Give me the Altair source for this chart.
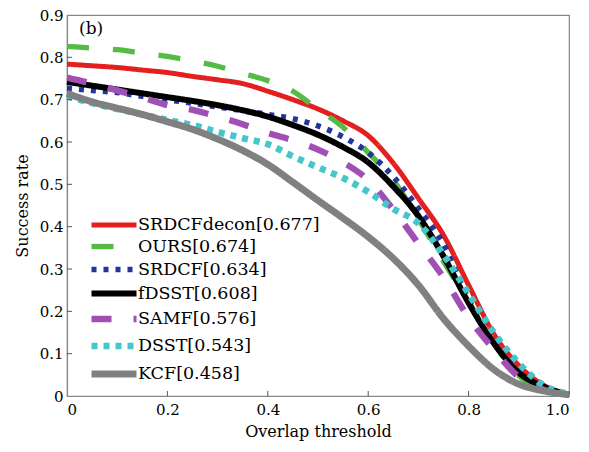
import altair as alt
import pandas as pd

thresholds = [0, 0.05, 0.1, 0.15, 0.2, 0.25, 0.3, 0.35, 0.4, 0.45, 0.5,
              0.55, 0.6, 0.65, 0.7, 0.75, 0.8, 0.85, 0.9, 0.95, 1.0]

names = ["SRDCFdecon[0.677]", "OURS[0.674]", "SRDCF[0.634]", "fDSST[0.608]",
         "SAMF[0.576]", "DSST[0.543]", "KCF[0.458]"]

srdcfdecon = [0.784, 0.780, 0.776, 0.770, 0.764, 0.755, 0.747, 0.738, 0.720, 0.700, 0.678,
              0.650, 0.615, 0.550, 0.467, 0.380, 0.262, 0.147, 0.072, 0.025, 0.003]
ours = [0.826, 0.822, 0.818, 0.810, 0.802, 0.792, 0.779, 0.762, 0.745, 0.720, 0.677,
        0.635, 0.575, 0.510, 0.418, 0.318, 0.222, 0.125, 0.048, 0.015, 0.002]
srdcf = [0.727, 0.722, 0.717, 0.708, 0.700, 0.692, 0.683, 0.674, 0.665, 0.655, 0.638,
         0.612, 0.575, 0.518, 0.443, 0.358, 0.228, 0.130, 0.060, 0.022, 0.003]
fdsst = [0.742, 0.733, 0.724, 0.715, 0.706, 0.697, 0.687, 0.675, 0.660, 0.640, 0.617,
         0.588, 0.552, 0.495, 0.425, 0.330, 0.220, 0.125, 0.055, 0.022, 0.003]
samf = [0.752, 0.738, 0.722, 0.705, 0.687, 0.676, 0.660, 0.642, 0.621, 0.604, 0.582,
        0.552, 0.510, 0.440, 0.360, 0.280, 0.185, 0.110, 0.045, 0.015, 0.002]
dsst = [0.708, 0.692, 0.678, 0.665, 0.652, 0.640, 0.624, 0.609, 0.595, 0.566, 0.540,
        0.515, 0.482, 0.442, 0.408, 0.333, 0.242, 0.150, 0.077, 0.025, 0.005]
kcf = [0.715, 0.695, 0.680, 0.665, 0.648, 0.630, 0.607, 0.580, 0.547, 0.505, 0.462,
       0.420, 0.376, 0.325, 0.262, 0.183, 0.118, 0.063, 0.028, 0.012, 0.003]

series = [srdcfdecon, ours, srdcf, fdsst, samf, dsst, kcf]
colors = ["#e3201f", "#55bb45", "#24359a", "#000000", "#a24fb5", "#45c6cb", "#808080"]
dashes = [[1, 0], [22, 24], [5, 7], [1, 0], [20, 22], [6, 6], [1, 0]]
widths = [5, 7, 5, 5, 6, 6, 5]

x_ticks = [0.2, 0.4, 0.6, 0.8]
y_ticks = [0.1, 0.2, 0.3, 0.4, 0.5, 0.6, 0.7, 0.8]

rows = []
for n, vals in zip(names, series):
    for t, v in zip(thresholds, vals):
        rows.append({"t": t, "v": v, "name": n})
df = pd.DataFrame(rows)

W, H = 502, 381
FONT = "DejaVu Serif"

xscale = alt.Scale(domain=[0, 1], nice=False)
yscale = alt.Scale(domain=[0, 0.9], nice=False)

lines = alt.Chart(df).mark_line(interpolate="monotone", strokeCap="butt").encode(
    x=alt.X("t:Q", scale=xscale, title="Overlap threshold",
            axis=alt.Axis(values=[0, 0.2, 0.4, 0.6, 0.8, 1.0], ticks=False, grid=False,
                          labelExpr="datum.value == 0 ? '0' : format(datum.value, '.1f')",
                          labelPadding=6, titlePadding=6)),
    y=alt.Y("v:Q", scale=yscale, title="Success rate",
            axis=alt.Axis(values=[0, 0.1, 0.2, 0.3, 0.4, 0.5, 0.6, 0.7, 0.8, 0.9], ticks=False,
                          grid=False,
                          labelExpr="datum.value == 0 ? '0' : format(datum.value, '.1f')",
                          labelPadding=4, titlePadding=9)),
    color=alt.Color("name:N", scale=alt.Scale(domain=names, range=colors), title=None,
                    legend=alt.Legend(orient="none", legendX=21, legendY=200,
                                      symbolType="M-1,0H5", symbolSize=225,
                                      labelFont=FONT, labelFontSize=17.5, labelColor="black",
                                      labelLimit=0, labelOffset=28, rowPadding=0, padding=0)),
    strokeDash=alt.StrokeDash("name:N", scale=alt.Scale(domain=names, range=dashes), title=None),
    strokeWidth=alt.StrokeWidth("name:N", scale=alt.Scale(domain=names, range=widths), title=None),
    order=alt.Order("t:Q"),
)

xt = pd.DataFrame({"xt": x_ticks})
yt = pd.DataFrame({"yt": y_ticks})

xtick_rules = alt.Chart(xt).mark_rule(color="#555555", strokeWidth=1).encode(
    x=alt.X("xt:Q", scale=xscale), y=alt.value(H), y2=alt.value(H - 5))
ytick_rules = alt.Chart(yt).mark_rule(color="#555555", strokeWidth=1).encode(
    y=alt.Y("yt:Q", scale=yscale), x=alt.value(0), x2=alt.value(5))

label_b = alt.Chart(pd.DataFrame({"txt": ["(b)"]})).mark_text(
    font=FONT, fontSize=17, align="left", baseline="middle", color="black").encode(
    text="txt:N", x=alt.value(12), y=alt.value(14))

chart = alt.layer(lines, xtick_rules, ytick_rules, label_b).properties(
    width=W, height=H,
    background="white",
    autosize=alt.AutoSizeParams(type="none"),
    padding={"left": 59, "top": 7, "right": 10, "bottom": 56},
).configure_view(stroke="#888888", strokeWidth=1.2).configure_axis(
    domainColor="#888888", domainWidth=1.2,
    labelFont=FONT, labelFontSize=15, labelColor="black",
    titleFont=FONT, titleFontSize=16, titleFontWeight="normal", titleColor="black",
)

chart.save("out.html", embed_options={"renderer": "svg", "actions": False})
